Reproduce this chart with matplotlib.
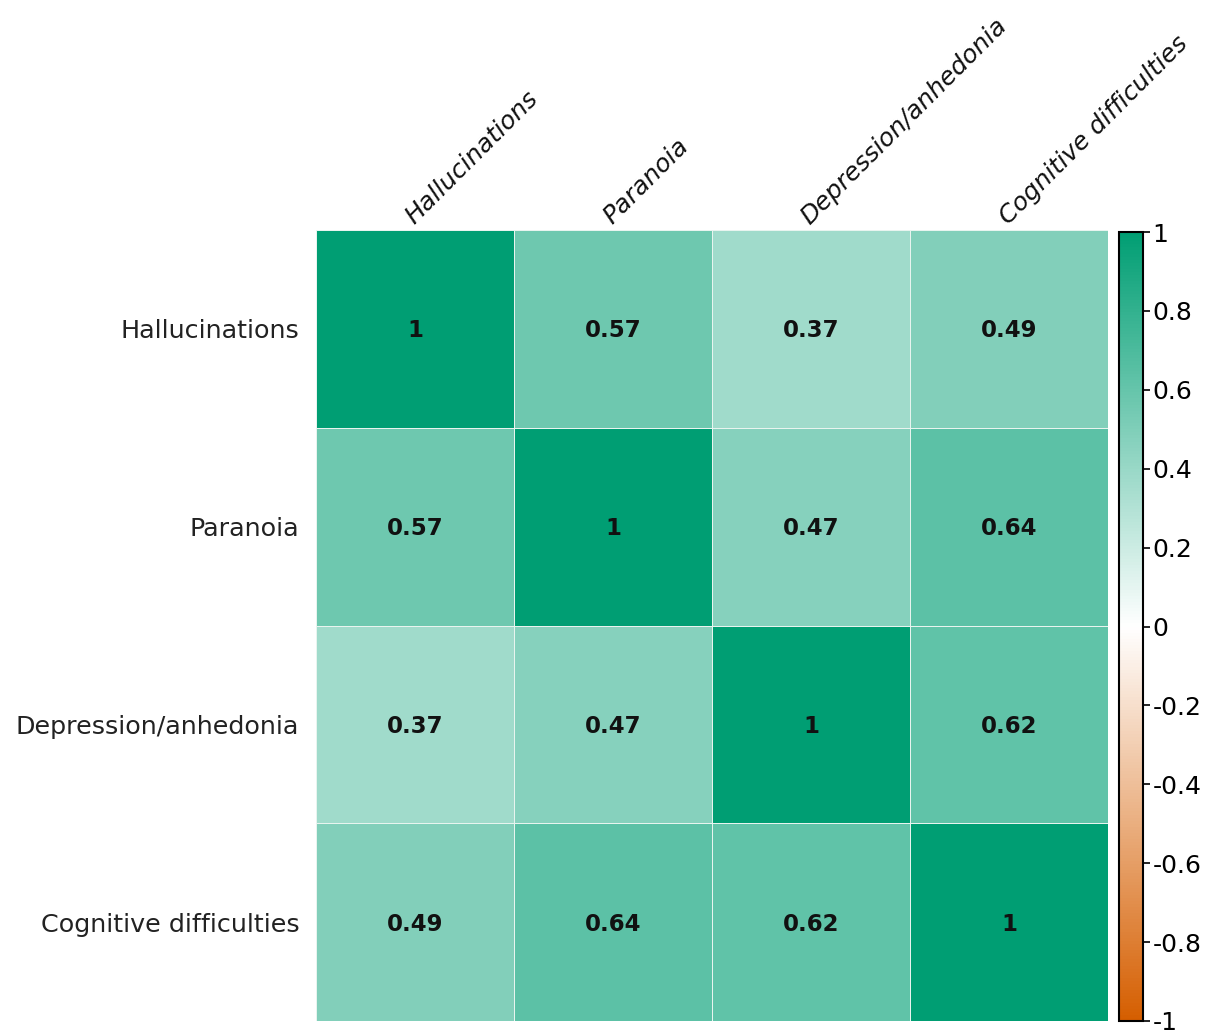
import numpy as np
import matplotlib.pyplot as plt
from matplotlib.colors import LinearSegmentedColormap

plt.rcParams['font.family'] = ['DejaVu Sans']

labels = ['Hallucinations', 'Paranoia', 'Depression/anhedonia', 'Cognitive difficulties']
corr = np.array([
    [1.00, 0.57, 0.37, 0.49],
    [0.57, 1.00, 0.47, 0.64],
    [0.37, 0.47, 1.00, 0.62],
    [0.49, 0.64, 0.62, 1.00],
])
cbar_ticks = [-1, -0.8, -0.6, -0.4, -0.2, 0, 0.2, 0.4, 0.6, 0.8, 1]
cbar_labels = ['-1', '-0.8', '-0.6', '-0.4', '-0.2', '0', '0.2', '0.4', '0.6', '0.8', '1']

cmap = LinearSegmentedColormap.from_list('og', ['#D55E00', '#FFFFFF', '#009E73'])

W, H = 1214, 1036
fig = plt.figure(figsize=(W / 100, H / 100), dpi=100)
ax = fig.add_axes([316 / W, 1 - 1021 / H, (1108 - 316) / W, (1021 - 230) / H])
cax = fig.add_axes([1119 / W, 1 - 1021 / H, 24 / W, (1021 - 232) / H])

n = len(labels)
mesh = ax.pcolormesh(np.arange(n + 1), np.arange(n + 1), corr, cmap=cmap, vmin=-1, vmax=1,
                     edgecolor='#e8f4ef', linewidth=0.6)
ax.set_xlim(0, n)
ax.set_ylim(n, 0)
for s in ax.spines.values():
    s.set_visible(False)
ax.set_xticks([])
ax.set_yticks(np.arange(n) + 0.5)
ax.set_yticklabels(labels, fontsize=18.3, color='#222222')
ax.tick_params(axis='y', length=0, pad=12)

for i in range(n):
    for j in range(n):
        v = corr[i, j]
        txt = '1' if v == 1 else f'{v:.2f}'
        ax.text(j + 0.5, i + 0.51, txt, ha='center', va='center', fontsize=16.5,
                fontweight='bold', color='#111111')

# column labels, tilted above the grid
for j, lab in enumerate(labels):
    ax.text(j + 0.47, -0.05, lab, rotation=45, rotation_mode='anchor', ha='left', va='center',
            fontsize=18, style='italic', color='#111111')

cb = fig.colorbar(mesh, cax=cax, ticks=cbar_ticks)
cb.outline.set_linewidth(1.5)
cb.ax.tick_params(labelsize=18, length=5, width=1.2, direction='out', pad=2)
cb.ax.set_yticklabels(cbar_labels)

fig.savefig('out.png', dpi=100)
